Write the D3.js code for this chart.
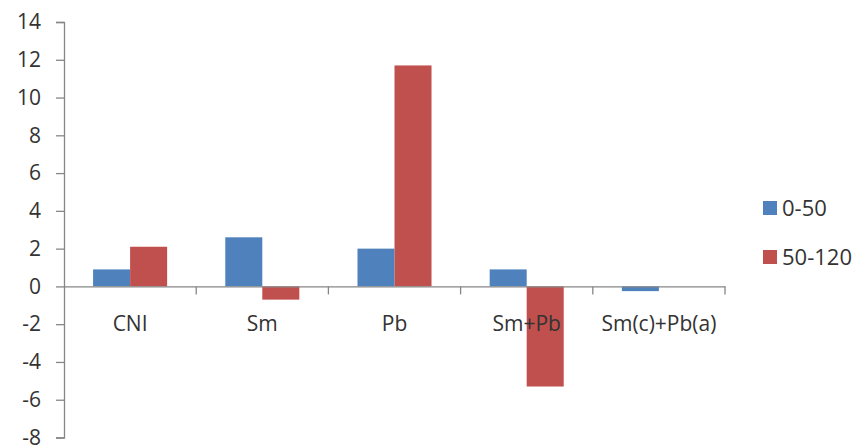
<!DOCTYPE html>
<html><head><meta charset="utf-8">
<script src="https://cdn.jsdelivr.net/npm/d3@7"></script>
<style>body{margin:0;background:#fff}svg{display:block}text{font-family:"Open Sans",sans-serif}</style>
</head><body>
<svg id="c" width="864" height="445"></svg>
<script>
const categories = ["CNI", "Sm", "Pb", "Sm+Pb", "Sm(c)+Pb(a)"];
const seriesNames = ["0-50", "50-120"];
const series0_50 = [0.9, 2.6, 2.0, 0.9, -0.25];
const series50_120 = [2.1, -0.7, 11.7, -5.3, 0];
const yTicks = [-8, -6, -4, -2, 0, 2, 4, 6, 8, 10, 12, 14];
const colors = ["#4F81BD", "#C0504D"];

const svg = d3.select("#c");
const x0 = 64, x1 = 725, yTop = 22, yBot = 437.5;
const x = d3.scaleBand().domain(categories).range([x0, x1]).paddingInner(0).paddingOuter(0);
const y = d3.scaleLinear().domain([-8, 14]).range([yBot, yTop]);
const groupW = x.bandwidth() * 0.56;
const xs = d3.scaleBand().domain(seriesNames).range([0, groupW]);
const data = [series0_50, series50_120];
const txt = "#333";

// bars
seriesNames.forEach((s, si) => {
  svg.append("g").selectAll("rect").data(categories).join("rect")
    .attr("x", c => x(c) + (x.bandwidth() - groupW) / 2 + xs(s))
    .attr("width", xs.bandwidth())
    .attr("y", (c, i) => y(Math.max(0, data[si][i])))
    .attr("height", (c, i) => Math.abs(y(data[si][i]) - y(0)))
    .attr("fill", colors[si]);
});

// y axis
const yAxis = svg.append("g").attr("transform", `translate(${x0},0)`)
  .call(d3.axisLeft(y).tickValues(yTicks).tickSize(8).tickPadding(15).tickFormat(d => String(d)));
yAxis.select(".domain").attr("stroke", "#868686").attr("stroke-width", 1.3);
yAxis.selectAll(".tick line").attr("stroke", "#868686").attr("stroke-width", 1.3);
yAxis.selectAll("text").attr("font-size", 21).attr("fill", txt)
  .style("font-family", "'Open Sans',sans-serif");

// x axis at zero
const xAxis = svg.append("g").attr("transform", `translate(0,${y(0)})`)
  .call(d3.axisBottom(x).tickSize(0).tickPadding(30).tickSizeOuter(0));
xAxis.select(".domain").attr("stroke", "#868686").attr("stroke-width", 1.3);
xAxis.selectAll("text").attr("font-size", 21).attr("fill", txt)
  .style("font-family", "'Open Sans',sans-serif");
// category boundary ticks
const bounds = categories.map(c => x(c) + x.bandwidth());
svg.append("g").selectAll("line").data(bounds).join("line")
  .attr("x1", d => d).attr("x2", d => d)
  .attr("y1", y(0)).attr("y2", y(0) + 8)
  .attr("stroke", "#868686").attr("stroke-width", 1.3);

// legend
const lg = svg.append("g");
seriesNames.forEach((s, i) => {
  const ly = 208 + i * 49;
  lg.append("rect").attr("x", 763).attr("y", ly - 7).attr("width", 14).attr("height", 14).attr("fill", colors[i]);
  lg.append("text").attr("x", 782).attr("y", ly).attr("dy", "0.35em")
    .attr("font-size", 22).attr("fill", txt).text(s);
});
</script>
</body></html>
